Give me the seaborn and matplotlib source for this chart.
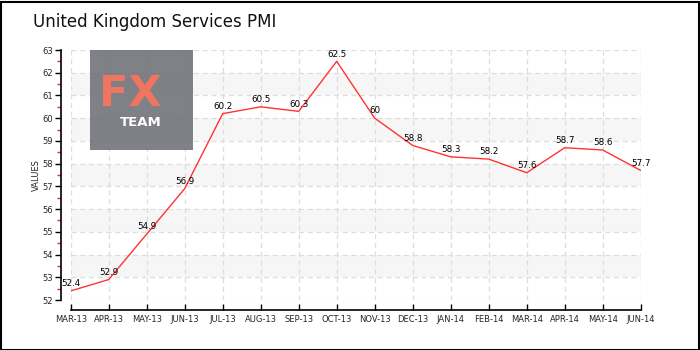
import matplotlib
matplotlib.use("Agg")
import matplotlib.pyplot as plt
from matplotlib.patches import Rectangle
from matplotlib.ticker import MultipleLocator
import numpy as np
import pandas as pd
import seaborn as sns

months = ["MAR-13", "APR-13", "MAY-13", "JUN-13", "JUL-13", "AUG-13", "SEP-13", "OCT-13",
          "NOV-13", "DEC-13", "JAN-14", "FEB-14", "MAR-14", "APR-14", "MAY-14", "JUN-14"]
pmi = [52.4, 52.9, 54.9, 56.9, 60.2, 60.5, 60.3, 62.5,
       60.0, 58.8, 58.3, 58.2, 57.6, 58.7, 58.6, 57.7]
value_labels = ["52.4", "52.9", "54.9", "56.9", "60.2", "60.5", "60.3", "62.5",
                "60", "58.8", "58.3", "58.2", "57.6", "58.7", "58.6", "57.7"]
y_ticks = list(range(52, 64))

df = pd.DataFrame({"idx": np.arange(len(months)), "month": months, "pmi": pmi})

sns.set_theme(style="white")
plt.rcParams["font.family"] = ["DejaVu Sans"]

fig = plt.figure(figsize=(7, 3.5), dpi=100)
ax = fig.add_axes([70.7 / 700, 50 / 350, 570 / 700, 250 / 350])

# alternating light bands
for lo in range(53, 63, 2):
    ax.axhspan(lo, lo + 1, color="#f6f6f6", zorder=0, lw=0)

# dashed grid
for y in y_ticks:
    ax.axhline(y, color="#dddddd", lw=0.9, ls=(0, (4, 3)), zorder=1)
for x in df["idx"]:
    ax.axvline(x, color="#dddddd", lw=0.9, ls=(0, (4, 3)), zorder=1)

sns.lineplot(data=df, x="idx", y="pmi", ax=ax, color="#ff3333", lw=1.0, zorder=3)

for x, y, t in zip(df["idx"], pmi, value_labels):
    ax.annotate(t, (x, y), xytext=(0, 2), textcoords="offset points",
                ha="center", va="bottom", fontsize=6.3, color="black", zorder=4)

ax.set_xlim(0, 15)
ax.set_ylim(52, 63)
ax.set_xticks(df["idx"])
ax.set_yticks(y_ticks)
sns.despine(ax=ax, offset=7, trim=True)

ax.set_xticks(df["idx"], labels=months)
ax.set_yticks(y_ticks, labels=[str(v) for v in y_ticks])
ax.yaxis.set_minor_locator(MultipleLocator(0.5))
ax.tick_params(axis="both", which="major", labelsize=6)
ax.tick_params(axis="x", which="major", bottom=True, direction="in", length=4, width=1,
               color="black", pad=4)
ax.tick_params(axis="y", which="major", left=True, direction="out", length=4, width=1,
               color="black", pad=2)
ax.tick_params(axis="y", which="minor", left=True, direction="out", length=3, width=1,
               color="#ff2222")
ax.tick_params(axis="x", which="minor", bottom=False, length=0)
ax.set_xlabel("")
ax.set_ylabel("VALUES", fontsize=6, labelpad=1)

for s in ("left", "bottom"):
    ax.spines[s].set_color("black")
    ax.spines[s].set_linewidth(1.2)

# translucent logo block
logo = Rectangle((90 / 700, 1 - 150 / 350), 103 / 700, 100 / 350, transform=fig.transFigure,
                 facecolor="#76767e", edgecolor="none", alpha=0.93, zorder=5)
fig.patches.append(logo)
fig.text(99 / 700, 1 - 94 / 350, "FX", color="#f07560", fontsize=31, ha="left",
         va="center", fontweight="bold", zorder=6)
fig.text(141 / 700, 1 - 122 / 350, "TEAM", color="white", fontsize=9.5, ha="center",
         va="center", fontweight="bold", zorder=6)

fig.text(33 / 700, 1 - 22 / 350, "United Kingdom Services PMI", fontsize=12,
         ha="left", va="center", color="#111111")

# outer frame
fig.patches.append(Rectangle((0.5 / 700, 0.5 / 350), 698.5 / 700, 347.5 / 350,
                             transform=fig.transFigure, fill=False, edgecolor="black", lw=1.5))

fig.savefig("out.png", dpi=100)
